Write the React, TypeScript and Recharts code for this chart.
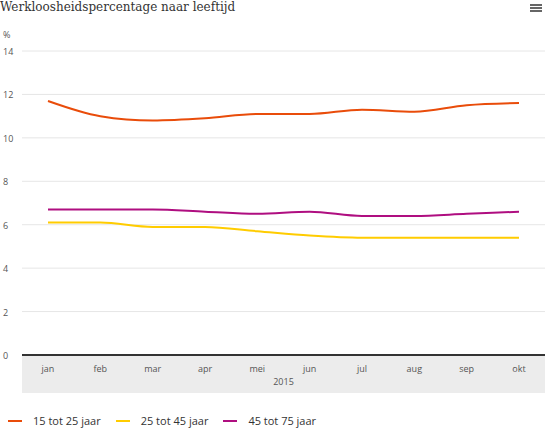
import { LineChart, Line, XAxis, YAxis, CartesianGrid, Legend } from "recharts";

const months = ["jan", "feb", "mar", "apr", "mei", "jun", "jul", "aug", "sep", "okt"];
const jong = [11.7, 11.0, 10.8, 10.9, 11.1, 11.1, 11.3, 11.2, 11.5, 11.6];
const midden = [6.1, 6.1, 5.9, 5.9, 5.7, 5.5, 5.4, 5.4, 5.4, 5.4];
const oud = [6.7, 6.7, 6.7, 6.6, 6.5, 6.6, 6.4, 6.4, 6.5, 6.6];
const yTicks = [0, 2, 4, 6, 8, 10, 12, 14];

const series = [
  { key: "jong", name: "15 tot 25 jaar", color: "#e94c0a" },
  { key: "midden", name: "25 tot 45 jaar", color: "#ffcc00" },
  { key: "oud", name: "45 tot 75 jaar", color: "#af0e80" },
];

const data = months.map((m, i) => ({
  month: m,
  jong: jong[i],
  midden: midden[i],
  oud: oud[i],
}));

const font = "'Open Sans', sans-serif";

const YTick = (props: any) => {
  const { y, payload } = props;
  return (
    <text x={3} y={y + 4} fontSize={9} fill="#555" fontFamily={font}>
      {payload.value}
    </text>
  );
};

const XTick = (props: any) => {
  const { x, y, payload } = props;
  return (
    <text x={x} y={y + 9} fontSize={9} fill="#555" fontFamily={font} textAnchor="middle">
      {payload.value}
    </text>
  );
};

const LegendContent = () => (
  <div style={{ display: "flex", fontFamily: font, fontSize: 11, lineHeight: "14px", color: "#333" }}>
    {series.map((s) => (
      <div key={s.key} style={{ display: "flex", alignItems: "center", marginRight: 15 }}>
        <div style={{ width: 14, height: 2, background: s.color, marginRight: 11 }} />
        <span>{s.name}</span>
      </div>
    ))}
  </div>
);

const App = () => {
  return (
    <div style={{ position: "absolute", left: 0, top: 0, width: 545, height: 430, background: "#fff" }}>
      <div
        style={{
          position: "absolute",
          left: 22,
          top: 355,
          width: 523,
          height: 38,
          background: "#ececec",
        }}
      />
      <div
        style={{
          position: "absolute",
          left: 0,
          top: 0,
          lineHeight: "14px",
          fontFamily: "'DejaVu Serif', serif",
          fontSize: 12,
          color: "#333",
        }}
      >
        Werkloosheidspercentage naar leeftijd
      </div>
      <div style={{ position: "absolute", left: 530, top: 4 }}>
        {[0, 1, 2].map((i) => (
          <div key={i} style={{ width: 12, height: 2, background: "#666", marginBottom: 1 }} />
        ))}
      </div>
      <div
        style={{ position: "absolute", left: 3, top: 28, fontFamily: font, fontSize: 9, color: "#555" }}
      >
        %
      </div>
      <div style={{ position: "absolute", left: 0, top: 0 }}>
        <LineChart
          width={545}
          height={430}
          data={data}
          margin={{ top: 51, right: 0, left: 0, bottom: 0 }}
        >
          <CartesianGrid vertical={false} stroke="#e6e6e6" />
          <XAxis
            dataKey="month"
            tick={<XTick />}
            tickLine={false}
            axisLine={{ stroke: "#333", strokeWidth: 2 }}
            height={38}
            padding={{ left: 26, right: 26 }}
            label={{ value: "2015", position: "insideBottom", offset: 8, fontSize: 9, fill: "#555", fontFamily: font }}
          />
          <YAxis
            domain={[0, 14]}
            ticks={yTicks}
            tick={<YTick />}
            axisLine={false}
            tickLine={false}
            width={22}
          />
          {series.map((s) => (
            <Line
              key={s.key}
              type="monotone"
              dataKey={s.key}
              name={s.name}
              stroke={s.color}
              strokeWidth={2}
              dot={false}
              isAnimationActive={false}
            />
          ))}
          <Legend
            verticalAlign="bottom"
            align="left"
            height={37}
            wrapperStyle={{ left: 8, top: 414 }}
            content={<LegendContent />}
          />
        </LineChart>
      </div>
    </div>
  );
};

export default App;
